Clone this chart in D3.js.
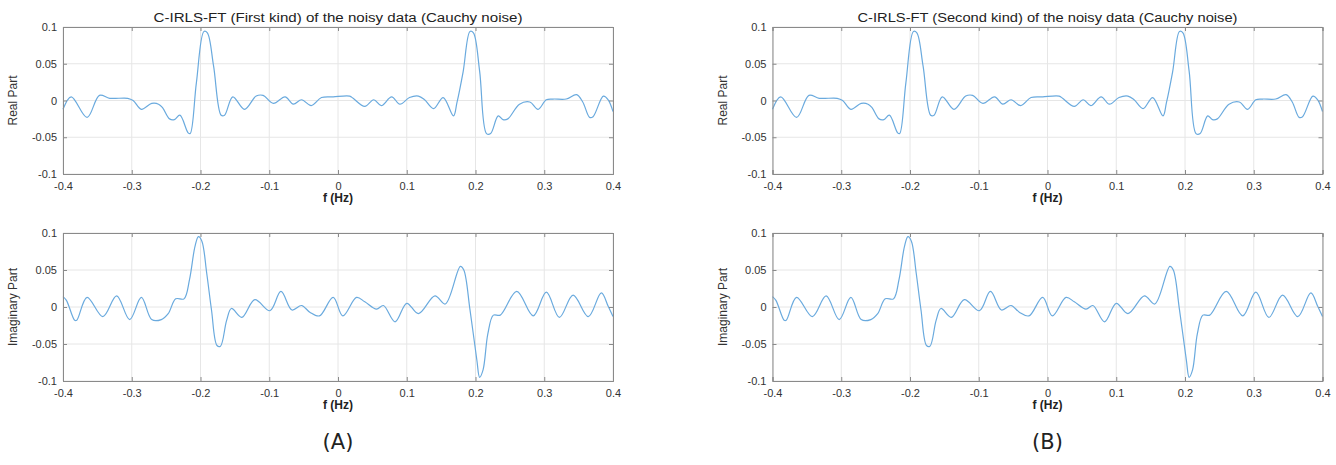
<!DOCTYPE html>
<html>
<head>
<meta charset="utf-8">
<script src="https://cdn.jsdelivr.net/npm/d3@7"></script>
<style>
  html, body { margin: 0; padding: 0; background: #fff; }
  svg { display: block; }
  text { font-family: "Liberation Sans", Arial, Helvetica, sans-serif; }
</style>
</head>
<body>
<svg id="chart" width="1336" height="465"></svg>
<script>
// ---------- DATA ----------
const xTicks = [-0.4, -0.3, -0.2, -0.1, 0, 0.1, 0.2, 0.3, 0.4];
const yTicks = [-0.1, -0.05, 0, 0.05, 0.1];
const xLabel = "f (Hz)";
const titles = [
  "C-IRLS-FT (First kind) of the noisy data (Cauchy noise)",
  "C-IRLS-FT (Second kind) of the noisy data (Cauchy noise)"
];
const yLabels = ["Real Part", "Imaginary Part"];
const panelLabels = ["(A)", "(B)"];

const realFreqA = [-0.400,-0.388,-0.365,-0.347,-0.332,-0.306,-0.298,-0.286,-0.271,-0.261,-0.255,-0.245,-0.238,-0.230,-0.218,-0.215,-0.206,-0.195,-0.190,-0.181,-0.170,-0.165,-0.153,-0.136,-0.119,-0.109,-0.094,-0.077,-0.065,-0.053,-0.039,-0.024,-0.007,0.017,0.022,0.039,0.052,0.063,0.078,0.090,0.104,0.117,0.126,0.139,0.153,0.168,0.173,0.182,0.192,0.197,0.206,0.216,0.222,0.233,0.240,0.247,0.264,0.279,0.291,0.303,0.313,0.332,0.347,0.356,0.366,0.371,0.386,0.393,0.400];
const realValA = [-0.012,0.005,-0.023,0.007,0.003,0.003,0.000,-0.012,-0.004,-0.005,-0.010,-0.025,-0.026,-0.020,-0.044,-0.045,0.024,0.094,0.092,0.047,-0.020,-0.020,0.005,-0.012,0.006,0.007,-0.004,0.005,-0.005,0.001,-0.007,0.004,0.005,0.006,0.003,-0.008,0.001,-0.007,0.005,-0.005,0.004,0.006,0.001,-0.011,0.004,-0.021,-0.003,0.039,0.094,0.092,0.040,-0.045,-0.045,-0.021,-0.026,-0.025,-0.005,-0.002,-0.012,0.001,0.002,0.002,0.008,-0.002,-0.023,-0.022,0.006,0.001,-0.015];

const imagFreqA = [-0.400,-0.395,-0.383,-0.380,-0.365,-0.342,-0.322,-0.303,-0.286,-0.271,-0.257,-0.247,-0.236,-0.224,-0.216,-0.208,-0.203,-0.198,-0.191,-0.184,-0.176,-0.171,-0.162,-0.155,-0.140,-0.121,-0.099,-0.083,-0.067,-0.053,-0.041,-0.027,-0.007,0.007,0.027,0.039,0.056,0.066,0.083,0.100,0.117,0.141,0.156,0.178,0.183,0.192,0.202,0.206,0.211,0.218,0.226,0.236,0.260,0.284,0.303,0.322,0.342,0.364,0.383,0.393,0.400];
const imagValA = [0.014,0.009,-0.018,-0.018,0.013,-0.013,0.015,-0.017,0.013,-0.017,-0.017,-0.009,0.011,0.011,0.037,0.082,0.095,0.089,0.046,-0.004,-0.052,-0.053,-0.018,-0.002,-0.014,0.010,-0.005,0.021,-0.004,0.002,-0.007,-0.012,0.013,-0.012,0.013,0.007,-0.003,0.002,-0.020,0.005,-0.009,0.015,0.004,0.055,0.050,-0.004,-0.072,-0.095,-0.085,-0.036,-0.011,-0.011,0.021,-0.012,0.020,-0.014,0.016,-0.013,0.019,0.001,-0.013];

// Panel B (second kind) – visually identical to panel A in the reference
const realFreqB = realFreqA.slice();
const realValB = realValA.slice();
const imagFreqB = imagFreqA.slice();
const imagValB = imagValA.slice();

// ---------- DRAW ----------
const svg = d3.select("#chart");
const lineColor = "#6aaade";

const panels = [
  { x0: 63, x1: 613, label: panelLabels[0], title: titles[0], titleLen: 369,
    series: [[realFreqA, realValA], [imagFreqA, imagValA]] },
  { x0: 772.5, x1: 1322.5, label: panelLabels[1], title: titles[1], titleLen: 380,
    series: [[realFreqB, realValB], [imagFreqB, imagValB]] }
];
const rows = [ { y0: 27, y1: 174 }, { y0: 233, y1: 381 } ];

panels.forEach((p) => {
  rows.forEach((r, ri) => {
    const x = d3.scaleLinear().domain([-0.4, 0.4]).range([p.x0, p.x1]);
    const y = d3.scaleLinear().domain([-0.1, 0.1]).range([r.y1, r.y0]);
    const g = svg.append("g");

    // grid
    g.selectAll(".gx").data(xTicks).enter().append("line")
      .attr("x1", d => x(d)).attr("x2", d => x(d))
      .attr("y1", r.y0).attr("y2", r.y1)
      .attr("stroke", "#e6e6e6").attr("stroke-width", 1);
    g.selectAll(".gy").data(yTicks).enter().append("line")
      .attr("x1", p.x0).attr("x2", p.x1)
      .attr("y1", d => y(d)).attr("y2", d => y(d))
      .attr("stroke", "#e6e6e6").attr("stroke-width", 1);

    // data line
    const [fs, vs] = p.series[ri];
    const pts = fs.map((f, i) => [f, vs[i]]);
    g.append("path").datum(pts)
      .attr("fill", "none").attr("stroke", lineColor).attr("stroke-width", 1.2)
      .attr("d", d3.line().x(d => x(d[0])).y(d => y(d[1])).curve(d3.curveCatmullRom.alpha(0.5)));

    // axes (ticks inside, matlab-like box)
    const tickLen = 4;
    const axB = d3.axisBottom(x).tickValues(xTicks).tickSize(-tickLen).tickPadding(8)
      .tickFormat(d => String(Math.round(d * 10) / 10));
    const axL = d3.axisLeft(y).tickValues(yTicks).tickSize(-tickLen).tickPadding(6)
      .tickFormat(d => String(Math.round(d * 100) / 100));
    const axT = d3.axisTop(x).tickValues(xTicks).tickSize(-tickLen).tickFormat("");
    const axR = d3.axisRight(y).tickValues(yTicks).tickSize(-tickLen).tickFormat("");

    const styleAx = sel => {
      sel.selectAll("path").attr("stroke", "#8a8a8a");
      sel.selectAll("line").attr("stroke", "#8a8a8a");
      sel.selectAll("text").attr("fill", "#333").style("font-size", "11px")
        .style("font-family", "'Liberation Sans', Arial, sans-serif");
    };
    g.append("g").attr("transform", `translate(0,${r.y1})`).call(axB).call(styleAx);
    g.append("g").attr("transform", `translate(${p.x0},0)`).call(axL).call(styleAx);
    g.append("g").attr("transform", `translate(0,${r.y0})`).call(axT).call(styleAx);
    g.append("g").attr("transform", `translate(${p.x1},0)`).call(axR).call(styleAx);

    // x label
    g.append("text").attr("x", (p.x0 + p.x1) / 2).attr("y", r.y1 + 28)
      .attr("text-anchor", "middle").attr("font-weight", "bold")
      .attr("font-size", "12px").attr("fill", "#222").text(xLabel);

    // y label
    g.append("text")
      .attr("transform", `translate(${p.x0 - 46},${(r.y0 + r.y1) / 2}) rotate(-90)`)
      .attr("text-anchor", "middle").attr("font-size", "12px").attr("fill", "#333")
      .text(yLabels[ri]);

    if (ri === 0) {
      g.append("text").attr("x", (p.x0 + p.x1) / 2).attr("y", 22)
        .attr("text-anchor", "middle").attr("font-size", "12.5px").attr("fill", "#222")
        .attr("textLength", p.titleLen).attr("lengthAdjust", "spacingAndGlyphs")
        .text(p.title);
    }
  });

  svg.append("text").attr("x", (p.x0 + p.x1) / 2).attr("y", 449)
    .attr("text-anchor", "middle").attr("font-size", "21px").attr("fill", "#222")
    .style("font-family", "'DejaVu Sans', sans-serif")
    .text(p.label);
});
</script>
</body>
</html>
